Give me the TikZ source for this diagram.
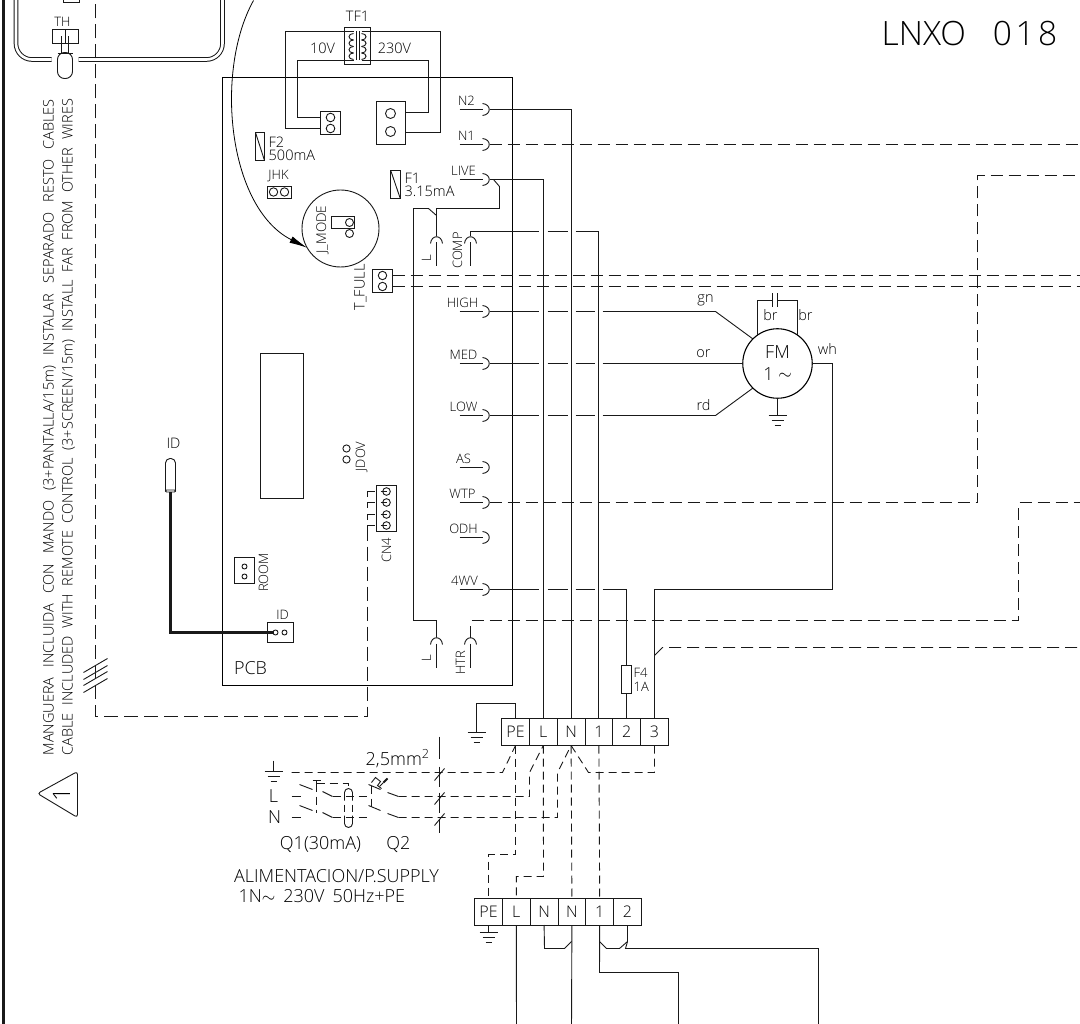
\documentclass[tikz,border=0pt]{standalone}
\usepackage{fontspec}
\setmainfont{Open Sans Light}
\usetikzlibrary{arrows.meta,shapes,positioning,calc}

\tikzset{
  wire/.style={line width=0.9pt,draw=black!90},
  dashwire/.style={wire,dash pattern=on 12pt off 6pt},
  shortwire/.style={wire,dash pattern=on 8pt off 5pt},
  crosswire/.style={wire,dash pattern=on 49pt off 9pt on 20pt off 8pt on 19pt off 8pt on 2000pt},
  lab/.style={inner sep=0pt,font=\fontsize{13}{14}\selectfont,text=black},
  midlab/.style={lab,font=\fontsize{14.5}{15}\selectfont},
  biglab/.style={lab,font=\fontsize{18}{19}\selectfont},
  cell/.style={draw=black!90,line width=0.9pt,inner sep=0pt,outer sep=0pt,minimum width=27.8pt,minimum height=27pt,font=\fontsize{16}{17}\selectfont,text=black},
  pin/.style={draw=black!90,line width=0.9pt,inner sep=0pt,outer sep=0pt,rectangle},
}

% plug with its wire leaving to the right
\newcommand{\plugh}[4]{
  \node[lab] (l#1) at (#4,#3-9) {#2};
  \draw[wire,line width=1.3pt] (459,#3) -- (482,#3);
  \draw[wire] (482,#3-6) .. controls (491,#3-5) and (491,#3+5) .. (482,#3+6);
  \coordinate (p#1) at (489,#3);
}
% plug with its wire leaving upwards
\newcommand{\plugv}[3]{
  \draw[wire] (#2-6,#3+7) .. controls (#2-5,#3-2) and (#2+5,#3-2) .. (#2+6,#3+7);
  \draw[wire,line width=1.3pt] (#2,#3+6) -- (#2,#3+30);
  \coordinate (p#1) at (#2,#3);
}
\newcommand{\earth}[2]{
  \draw[wire,line width=1.2pt] (#1-9,#2) -- (#1+9,#2);
  \draw[wire] (#1-6,#2+5) -- (#1+6,#2+5);
  \draw[wire] (#1-3,#2+10) -- (#1+3,#2+10);
}

\begin{document}
\begin{tikzpicture}[x=1pt,y=-1pt,shift={(0.5,0.5)}]
\path[use as bounding box,clip] (-0.5,-0.5) rectangle (1079.5,1023.5);
\fill[white] (-0.5,-0.5) rectangle (1079.5,1023.5);

% frame and sheet title
\draw[line width=2.4pt,black!90] (3,-1) -- (3,1025);
\node[lab,font=\fontsize{33.5}{34}\selectfont,anchor=west] (title) at (881,33) {LNXO\hspace{27pt}0\hspace{3.5pt}1\hspace{3.5pt}8};

% thermostat and its capillary
\draw[black!90,line width=1pt,double,double distance=2.6pt,rounded corners=16pt] (15.5,-5) -- (15.5,59) -- (51,59);
\draw[black!90,line width=1pt,double,double distance=2.6pt,rounded corners=16pt] (78,59) -- (222,59) -- (222,-5);
\node[pin,minimum width=26pt,minimum height=14pt] (thbox) at (65,36) {};
\node[lab] (thlab) at (62,21) {TH};
\draw[wire] (thbox.north) -- (thbox.south);
\draw[wire] (61,36) -- (61,53) (68,36) -- (68,53);
\draw[wire,fill=white,rounded corners=7pt] (57,52) rectangle (72,78);
\draw[wire] (57,53) -- (72,53);
\node[pin,minimum width=16pt,minimum height=6pt] (topbox) at (71,-1) {};

% remote control cable
\coordinate (cnfoot) at (367,526);
\coordinate (cabletop) at (95,-3);
\draw[wire,dash pattern=on 14pt off 6pt] (cnfoot) -- (367,716) -- (95,716) -- (cabletop);
\foreach \y in {672,679,685,692}
  \draw[wire] (83,\y) -- (107,\y-14);
\node[midlab,rotate=90,anchor=west] (cablees) at (49,755) {\spaceskip=.7em MANGUERA INCLUIDA CON MANDO (3+PANTALLA/15m) INSTALAR SEPARADO RESTO CABLES};
\node[midlab,rotate=90,anchor=west] (cableen) at (68,755) {\spaceskip=.53em CABLE INCLUDED WITH REMOTE CONTROL (3+SCREEN/15m) INSTALL FAR FROM OTHER WIRES};
\draw[wire,rounded corners=3pt] (37,793) -- (77,771) -- (77,817) -- cycle;
\node[lab,font=\fontsize{24}{24}\selectfont,rotate=90] (warn) at (61,794) {1};

% board
\node[draw=black,line width=1.7pt,inner sep=0pt,outer sep=0pt,minimum width=290pt,minimum height=608pt] (pcb) at (367,381) {};
\node[biglab] (pcblab) at (250,668) {PCB};
\node[pin,minimum width=43pt,minimum height=145pt] (ic) at (281.5,425.5) {};

% transformer
\node[midlab] (tflab) at (357,16) {TF1};
\node[pin,minimum width=26pt,minimum height=37pt] (tf) at (357,45.5) {};
\draw[wire] (356,31) -- (356,60) (358.6,31) -- (358.6,60);
\foreach \i in {0,1,2,3} {
  \draw[wire] (353,33+\i*6.5) .. controls (347,33+\i*6.5) and (347,39.5+\i*6.5) .. (353,39.5+\i*6.5);
  \draw[wire] (361,33+\i*6.5) .. controls (367,33+\i*6.5) and (367,39.5+\i*6.5) .. (361,39.5+\i*6.5);
}
\node[midlab] (sec) at (322,48) {10V};
\node[midlab] (pri) at (394,48) {230V};
\node[pin,minimum width=20pt,minimum height=23pt] (cnsec) at (330,122.5) {};
\node[pin,minimum width=29pt,minimum height=43pt] (cnpri) at (390.5,122.5) {};
\foreach \y in {117,128} \draw[wire] (330,\y) circle[radius=4.3];
\foreach \y in {113,131} \draw[wire] (390,\y) circle[radius=5];
\draw[wire] (353,31) -| (285,128) -- (cnsec.west |- 0,128);
\draw[wire] (353,60) -| (297,117) -- (cnsec.west |- 0,117);
\draw[wire] (361,31) -| (440,132) -- (cnpri.east |- 0,132);
\draw[wire] (361,60) -| (428,112) -- (cnpri.east |- 0,112);

% fuses and jumpers
\node[pin,minimum width=9pt,minimum height=28pt] (f2) at (259.5,146) {};
\draw[wire] (f2.north west) -- (f2.south east);
\node[midlab,anchor=west] (f2a) at (268,142) {F2};
\node[midlab,anchor=west] (f2b) at (268,155) {500mA};
\node[pin,minimum width=9.5pt,minimum height=28pt] (f1) at (395,184) {};
\draw[wire] (f1.north west) -- (f1.south east);
\node[midlab,anchor=west] (f1a) at (404,178) {F1};
\node[midlab,anchor=west] (f1b) at (404,191) {3.15mA};
\node[lab] (jhklab) at (278,176) {JHK};
\node[pin,minimum width=24pt,minimum height=12pt] (jhk) at (278.5,191.5) {};
\foreach \x in {273,284} \draw[wire] (\x,191.5) circle[radius=4.2];

% detail circle
\node[draw=black!90,line width=0.9pt,circle,minimum size=77pt,inner sep=0pt,outer sep=0pt] (jmode) at (340,228) {};
\node[lab,font=\fontsize{13.5}{14}\selectfont,rotate=90] (jmlab) at (322,229) {J\_MODE};
\node[pin,minimum width=23pt,minimum height=12pt] (jmbox) at (342.5,222) {};
\foreach \y in {222,233} \draw[wire] (349,\y) circle[radius=4];
\coordinate (arcstart) at (253,0);
\draw[line width=0.8pt,black,-{Latex[length=18pt,width=7pt]}] (arcstart) .. controls (214,70) and (227,207) .. (jmode.210);

% temperature switch input
\node[pin,minimum width=20pt,minimum height=23pt] (tfull) at (382,280.5) {};
\foreach \y in {275,286} \draw[wire] (382,\y) circle[radius=4.2];
\node[midlab,rotate=90] (tflab2) at (360,287) {T\_FULL};
\coordinate (tfa) at (1085,275);
\coordinate (tfb) at (1085,286);
\draw[dashwire] (tfull.east |- 0,275) -- (tfa);
\draw[dashwire] (tfull.east |- 0,286) -- (tfb);

% small connectors
\node[pin,minimum width=20pt,minimum height=26pt] (room) at (244,570) {};
\foreach \y in {566,576} \draw[wire] (244,\y) circle[radius=2.5];
\node[lab,rotate=90] (roomlab) at (263,572) {ROOM};
\node[pin,minimum width=26pt,minimum height=20pt] (idbox) at (280,632) {};
\foreach \x in {275,284} \draw[wire] (\x,632) circle[radius=2.5];
\node[lab] (idlab) at (282,614) {ID};
\node[midlab] (probelab) at (173,443) {ID};
\draw[wire,rounded corners=4.5pt] (165,491) -- (165,458) -- (175,458) -- (175,491);
\node[pin,rounded corners=1pt,minimum width=10pt,minimum height=2pt] (probe) at (170,490.5) {};
\draw[line width=2.2pt,black!90] (probe) |- (273,632);
\foreach \y in {448,459} \draw[wire] (346,\y) circle[radius=3.6];
\node[lab,rotate=90] (jdov) at (361,456) {JDOV};

% four way connector
\node[pin,minimum width=20pt,minimum height=46pt] (cn4) at (386,508) {};
\node[lab,rotate=90] (cn4lab) at (386,550) {CN4};
\foreach \y in {491,502,514,525} {
  \draw[wire] (386,\y) circle[radius=3.8];
  \draw[wire] (380,\y) -- (386,\y);
  \draw[wire] (367,\y+5) -- (367,\y) -- (374,\y);
}

% terminal blocks
\node[cell] (tPE) at (515,731.5) {PE};
\node[cell,right=0pt of tPE] (tL) {L};
\node[cell,right=0pt of tL] (tN) {N};
\node[cell,right=0pt of tN] (t1) {1};
\node[cell,right=0pt of t1] (t2) {2};
\node[cell,right=0pt of t2] (t3) {3};
\node[cell] (bPE) at (488,911) {PE};
\node[cell,right=0pt of bPE] (bL) {L};
\node[cell,right=0pt of bL] (bNa) {N};
\node[cell,right=0pt of bNa] (bNb) {N};
\node[cell,right=0pt of bNb] (b1) {1};
\node[cell,right=0pt of b1] (b2) {2};

% board plugs
\plugh{Ntwo}{N2}{109}{466}
\plugh{None}{N1}{144}{466}
\plugh{LIVE}{LIVE}{179}{463}
\plugh{HIGH}{HIGH}{311}{462}
\plugh{MED}{MED}{363}{463}
\plugh{LOW}{LOW}{415}{463}
\plugh{AS}{AS}{467}{463}
\plugh{WTP}{WTP}{502}{462}
\plugh{ODH}{ODH}{537}{463}
\plugh{FWV}{4WV}{589}{464}
\plugv{La}{436}{236}
\plugv{COMP}{470}{236}
\plugv{Lb}{436}{637}
\plugv{HTR}{470}{637}
\node[lab,rotate=90] (lLa) at (426,258) {L};
\node[lab,rotate=90] (lCOMP) at (457,250) {COMP};
\node[lab,rotate=90] (lLb) at (426,658) {L};
\node[lab,rotate=90] (lHTR) at (460,662) {HTR};

% motor
\node[draw=black,line width=1.1pt,circle,minimum size=69.5pt,inner sep=0pt,outer sep=0pt,align=center,lab,font=\fontsize{18}{18}\selectfont] (fm) at (777,363) {FM\\[4pt]1 \raisebox{1pt}{$\sim$}};
\coordinate (gnbend) at (715,311);
\coordinate (rdbend) at (715,415);
\coordinate (fmfoot) at (777,415);
\coordinate (capa) at (772,300);
\coordinate (capb) at (777,300);
\draw[crosswire] (pHIGH) -- (gnbend);
\draw[wire] (gnbend) -- (fm.135);
\draw[crosswire] (pMED) -- (fm.west);
\draw[crosswire] (pLOW) -- (rdbend);
\draw[wire] (rdbend) -- (fm.225);
\draw[wire] (fm.south) -- (fmfoot);
\earth{777}{415}
\draw[wire] (fm.125) |- (capa);
\draw[wire] (fm.55) |- (capb);
\draw[wire] (772,293) -- (772,307) (777,293) -- (777,307);
\node[midlab] (lgn) at (705,300) {gn};
\node[midlab] (lor) at (703,353) {or};
\node[midlab] (lrd) at (703,405) {rd};
\node[midlab] (lbra) at (770,315) {br};
\node[midlab] (lbrb) at (805,315) {br};
\node[midlab] (lwh) at (827,348) {wh};
\coordinate (whbend) at (832,363);
\coordinate (whdown) at (832,589);

% wires from plugs to the block
\draw[wire] (pNtwo) -| (tN.north);
\draw[dashwire] (pNone) -- (1085,144);
\draw[wire] (pLIVE) -| (tL.north);
\draw[wire] (493,179) -- (499,186) -- (499,208) -- (436,208) -- (pLa);
\draw[wire] (pLb) -- (436,620) -| (413,208) -- (428,208) -- (436,215);
\draw[wire,dash pattern=on 73pt off 9pt on 20pt off 8pt on 2000pt] (pCOMP) -- (470,231) -| (t1.north);
\draw[crosswire] (pFWV) -| (t2.north);
\node[pin,fill=white,minimum width=10pt,minimum height=28pt] (f4) at (626,679) {};
\node[lab,anchor=west] (f4a) at (633,672) {F4};
\node[lab,anchor=west] (f4b) at (633,686) {1A};
\draw[wire] (fm.east) -- (whbend) -- (whdown) -| (t3.north);
\draw[dashwire] (pWTP) -| (977,175) -- (1085,175);
\draw[dashwire] (pHTR) |- (1018,620) |- (1085,502);
\draw[dashwire] (654,655) -- (662,647) -- (1085,647);

% earth of upper block
\coordinate (peup) at (476,703);
\draw[wire] (tPE.north) |- (peup) -- (476,732);
\earth{476}{732}
\earth{488}{932}
\draw[wire] (bPE.south) -- (488,932);

% links between the blocks
\draw[shortwire] (tPE.south) -- (515,854) -| (bPE.north);
\draw[shortwire] (tL.south) -- (543,876) -| (bL.north);
\draw[shortwire] (tN.south) -- (bNb.north);
\draw[shortwire] (t1.south) -- (b1.north);

% supply
\node[biglab] (sL) at (273,796) {L};
\node[biglab] (sN) at (274,817) {N};
\draw[wire] (273,760) -- (273,771);
\earth{273}{771}
\draw[shortwire] (291,772) -- (502,772) -- (tPE.south);
\draw[shortwire] (398,796) -- (529,796) -- (529,772) -- (tL.south);
\draw[shortwire] (398,817) -- (557,817) -- (557,772) -- (tN.south);
\draw[shortwire] (t3.south) -- (654,772) -- (588,772) -- (tN.south);
\foreach \y in {796,817} {
  \draw[wire] (291,\y) -- (300,\y);
  \draw[wire] (299,\y-12) -- (312,\y-7);
  \draw[wire] (322,\y-5) -- (332,\y);
  \draw[shortwire] (332,\y) -- (367,\y);
  \draw[wire] (368,\y-12) -- (380,\y-7);
  \draw[wire] (387,\y-4) -- (398,\y);
}
\draw[shortwire] (316,783) -- (316,812);
\draw[shortwire] (316,783) -- (348,783) -- (348,788);
\draw[wire] (312,780) -- (320,780) (316,780) -- (316,784);
\draw[wire,rounded corners=4pt] (344,800) -- (344,788) -- (352,788) -- (352,800);
\draw[wire,rounded corners=4pt] (344,815) -- (344,827) -- (352,827) -- (352,815);
\draw[wire] (344,804) -- (344,811) (352,804) -- (352,811);
\draw[shortwire] (371,785) -- (371,807);
\draw[wire] (371,782) -- (375,777) -- (380,781) -- (377,785) -- (381,788);
\draw[wire] (379,786) -- (383,782);
\draw[line width=1.9pt,black!90] (383,782) -- (387,778);
\draw[wire,dash pattern=on 22pt off 8pt on 20pt off 6pt on 20pt off 6pt on 30pt] (439,736) -- (439,832);
\foreach \y in {772,796,817}
  \draw[wire] (434,\y+8) -- (444,\y-4);
\node[lab,font=\fontsize{18}{18}\selectfont,anchor=west] (mm) at (365,758) {2,5mm\textsuperscript{2}};
\node[biglab] (lq1) at (320,844) {Q1(30mA)};
\node[biglab] (lq2) at (398,844) {Q2};
\node[biglab] (psa) at (336,876) {ALIMENTACION/P.SUPPLY};
\node[biglab,anchor=west] (psb) at (238,896) {1N$\sim$\hspace{8pt}230V\hspace{8pt}50Hz+PE};

% wires leaving the lower block
\draw[wire] (bL.south) -- (516,1030);
\draw[wire] (bNb.south) -- (571,1030);
\draw[wire] (bNa.south) -- (544,948) -- (564,948) -- (571,941);
\draw[wire] (b1.south) -- (599,972) -- (678,972) -- (678,1030);
\draw[wire] (599,941) -- (606,948) -- (619,948) -- (627,941);
\draw[wire] (b2.south) -- (627,941) -- (625,948) -- (818,948) -- (818,1030);
\end{tikzpicture}
\end{document}
